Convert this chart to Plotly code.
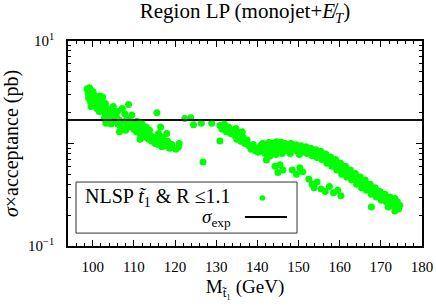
import plotly.graph_objects as go

# ---- data ----
mass = [
    98.6, 98.9, 99.2, 99.5, 99.0, 99.4, 99.8, 100.1, 100.3, 99.6, 100.0, 100.6, 100.9, 101.2, 101.0, 101.5,
    101.8, 102.1, 102.4, 101.6, 102.0, 102.6, 102.9, 103.1, 103.4, 103.7, 102.8, 103.2, 104.0, 104.3, 104.6,
    104.9, 105.2, 105.5, 105.8, 104.5, 106.1, 106.4, 106.7, 107.0,
    105.0, 106.0, 107.2, 108.7, 107.8, 108.2, 108.5, 109.0, 109.3, 109.7, 110.0, 110.3, 110.6, 111.0, 111.4,
    111.7, 112.0, 112.4, 112.8, 113.2, 113.6, 114.0, 114.4, 114.8, 115.2, 115.5, 116.0, 116.4, 116.8, 117.3,
    117.8, 118.2, 118.7, 119.2, 120.2, 120.8, 115.6, 113.0, 112.0, 110.8, 109.5, 108.0, 107.5, 106.5, 111.5,
    113.8, 116.0, 117.0, 116.5, 121.0, 118.0,
    122.4, 123.8, 124.5, 126.4, 126.8, 128.9,
    130.9, 131.5, 132.0, 132.5, 133.0, 133.5, 134.0, 130.9, 134.5, 135.0, 135.5, 136.0, 136.5, 137.0, 137.5,
    134.8, 136.3, 138.0, 138.5, 139.0, 139.5, 140.0, 140.2,
    140.8, 141.0, 141.3, 141.6, 141.9, 142.2, 142.5, 142.8, 143.1, 143.4, 143.7, 144.0, 144.3, 144.6, 144.9,
    145.2, 145.5, 145.8, 146.1, 146.4, 146.7, 147.0, 147.3, 147.6, 147.9, 148.2, 148.5, 148.8, 149.1, 149.4,
    149.7, 150.0, 150.3, 150.6, 150.9, 151.2, 151.5, 151.8, 152.1, 152.4, 152.7, 153.0, 153.3, 153.6, 153.9,
    154.2, 154.5, 154.8, 155.1, 155.4, 155.7, 156.0, 156.3, 156.6, 156.9, 157.2, 157.5, 157.8, 158.1, 158.4,
    158.7, 159.0, 159.3, 159.6, 159.9, 160.2, 160.5, 160.8, 161.1, 161.4, 161.7, 162.0, 162.3, 162.6, 162.9,
    163.2, 163.5, 163.8, 164.1, 164.4, 164.7, 165.0, 165.3, 165.6, 165.9, 166.2, 166.5, 166.8, 167.1, 167.4,
    167.7, 168.0, 168.3, 168.6, 168.9, 169.2, 169.5, 169.8, 170.1, 170.4, 170.7, 171.0, 171.3, 171.6, 171.9,
    172.2, 172.5, 172.8, 173.1, 173.4, 173.7, 174.0, 174.3, 174.6,
    144.5, 146.0, 148.0, 150.2, 143.0,
    142.2, 144.3, 145.5, 146.2, 145.0, 148.5, 149.5, 151.0, 150.3, 152.5, 153.3, 154.5, 155.5, 156.5, 153.8,
    157.5, 158.5, 159.5, 160.3, 167.7, 171.8, 173.4,
]
xsec = [
    3.4, 3.1, 3.5, 3.3, 2.8, 2.6, 3.0, 3.2, 2.7, 2.3, 2.45, 2.9, 2.5, 2.75, 2.2, 2.35,
    2.9, 2.6, 2.85, 2.05, 2.15, 2.3, 2.0, 2.45, 2.2, 1.95, 1.75, 1.58, 2.1, 1.85, 2.0,
    1.72, 1.9, 1.65, 1.8, 1.55, 1.55, 1.7, 1.48, 1.62,
    2.3, 2.05, 2.2, 2.4, 1.95, 1.7, 1.55, 1.75, 1.45, 1.6, 1.38, 1.52, 1.3, 1.42, 1.25,
    1.35, 1.2, 1.3, 1.15, 1.25, 1.1, 1.2, 1.05, 1.15, 1.0, 1.1, 0.98, 1.08, 0.93, 1.02,
    0.95, 1.05, 0.9, 0.98, 0.88, 0.92, 2.0, 1.45, 1.55, 1.65, 1.9, 1.35, 1.4, 1.3, 1.1,
    1.35, 1.25, 1.15, 1.45, 1.0, 1.25,
    1.75, 1.78, 1.52, 1.58, 0.66, 1.58,
    1.5, 1.38, 1.55, 1.3, 1.45, 1.25, 1.35, 1.06, 1.2, 1.1, 1.28, 1.05, 1.15, 1.0, 1.08,
    1.4, 1.3, 0.95, 0.88, 0.98, 0.85, 0.9, 0.82,
    0.95, 0.85, 1.0, 0.9, 0.8, 0.97, 0.88, 1.02, 0.93, 0.84, 1.0, 0.9, 0.95, 1.04, 0.86,
    0.98, 0.92, 1.03, 0.88, 0.97, 1.0, 0.92, 0.85, 0.98, 0.93, 1.0, 0.88, 0.95, 0.9, 0.97,
    0.84, 0.93, 0.89, 0.95, 0.82, 0.9, 0.86, 0.93, 0.8, 0.88, 0.84, 0.9, 0.76, 0.85, 0.8,
    0.87, 0.73, 0.82, 0.78, 0.84, 0.7, 0.77, 0.72, 0.79, 0.64, 0.72, 0.67, 0.74, 0.6, 0.66,
    0.62, 0.7, 0.55, 0.6, 0.57, 0.64, 0.5, 0.56, 0.53, 0.6, 0.47, 0.52, 0.49, 0.55, 0.44,
    0.48, 0.45, 0.51, 0.4, 0.45, 0.42, 0.47, 0.37, 0.41, 0.39, 0.44, 0.35, 0.38, 0.36, 0.4,
    0.32, 0.35, 0.33, 0.37, 0.3, 0.32, 0.31, 0.34, 0.28, 0.3, 0.29, 0.32, 0.27, 0.29, 0.26,
    0.3, 0.25, 0.28, 0.26, 0.29, 0.24, 0.27, 0.23, 0.25,
    0.78, 0.8, 0.8, 0.78, 0.75,
    0.69, 0.6, 0.62, 0.55, 0.52, 0.55, 0.5, 0.53, 0.58, 0.45, 0.4, 0.42, 0.36, 0.34, 0.37,
    0.38, 0.33, 0.35, 0.31, 0.24, 0.24, 0.22,
]
sigma_exp = 1.7
x_range = [94, 180]
y_ticks = [0.1, 1, 10]
y_ticktext = ["10<sup>\u22121</sup>", "", "10<sup>1</sup>"]

FONT = "Liberation Serif"
GREEN = "#00ff00"

fig = go.Figure()
fig.add_trace(go.Scatter(
    x=mass, y=xsec, mode="markers",
    marker=dict(color=GREEN, size=7, line=dict(width=0)),
    showlegend=False, hoverinfo="skip"))
fig.add_trace(go.Scatter(
    x=x_range, y=[sigma_exp, sigma_exp], mode="lines",
    line=dict(color="#111111", width=2),
    showlegend=False, hoverinfo="skip"))

axis_common = dict(
    showgrid=False, zeroline=False, showline=True, linecolor="black", linewidth=1.5,
    mirror="ticks", ticks="inside", tickcolor="black", ticklen=6, tickwidth=1,
    tickfont=dict(family=FONT, size=15, color="black"), automargin=False,
)

fig.update_xaxes(
    range=x_range, tick0=100, dtick=10,
    minor=dict(ticks="inside", dtick=2, ticklen=3, tickcolor="black"),
    ticklabelstandoff=6,
    title=dict(text="M<sub>t\u0303\u2081</sub> (GeV)", font=dict(family=FONT, size=19, color="black"),
               standoff=6),
    **axis_common)
fig.update_yaxes(
    type="log", range=[-1, 1], tickvals=y_ticks, ticktext=y_ticktext,
    minor=dict(ticks="inside", ticklen=3, tickcolor="black", dtick="D1", showgrid=False),
    ticklabelstandoff=9,
    title=dict(text="<i>\u03c3</i>\u00d7acceptance (pb)", font=dict(family=FONT, size=20, color="black"),
               standoff=4),
    **axis_common)

# legend drawn manually (text on the left, symbols on the right)
lx0, lx1, ly0, ly1 = 0.0226, 0.647, 0.063, 0.312
fig.add_shape(type="rect", xref="paper", yref="paper", x0=lx0, x1=lx1, y0=ly0, y1=ly1,
              line=dict(color="#333333", width=1), fillcolor="white", layer="above")
fig.add_annotation(xref="paper", yref="paper", x=0.466, y=0.236, xanchor="right", yanchor="middle",
                   text="NLSP <i>t\u0303</i><sub>1</sub> &amp; R \u22641.1", showarrow=False,
                   font=dict(family=FONT, size=20, color="black"))
fig.add_annotation(xref="paper", yref="paper", x=0.466, y=0.139, xanchor="right", yanchor="middle",
                   text="<i>\u03c3</i><sub>exp</sub>", showarrow=False,
                   font=dict(family=FONT, size=19, color="black"))
fig.add_shape(type="circle", xref="paper", yref="paper",
              x0=0.5494 - 0.008, x1=0.5494 + 0.008, y0=0.234 - 0.0135, y1=0.234 + 0.0135,
              fillcolor=GREEN, line=dict(width=0), layer="above")
fig.add_shape(type="line", xref="paper", yref="paper", x0=0.4997, x1=0.6186, y0=0.141, y1=0.141,
              line=dict(color="black", width=2), layer="above")

fig.update_layout(
    width=436, height=308,
    margin=dict(l=68, r=14, t=41, b=62),
    paper_bgcolor="white", plot_bgcolor="white",
    title=dict(text="Region LP (monojet+<i>E\u0338</i><sub><i>T</i></sub>)", x=0.5, xref="paper",
               y=0.965, yref="container", yanchor="middle",
               font=dict(family=FONT, size=21, color="black")),
    font=dict(family=FONT, color="black"),
)

fig.write_html("out.html", config={"displayModeBar": False},
               post_script="document.body.style.margin='0';document.body.style.padding='0';")
